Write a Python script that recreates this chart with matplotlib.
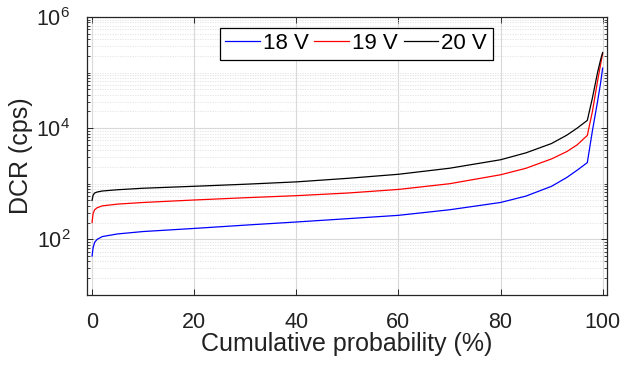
import matplotlib
matplotlib.use("Agg")
import matplotlib.pyplot as plt
from matplotlib.ticker import FixedLocator, NullFormatter

plt.rcParams['font.family'] = ['Liberation Sans', 'DejaVu Sans']
plt.rcParams['mathtext.fontset'] = 'custom'
plt.rcParams['mathtext.rm'] = 'Liberation Sans'
plt.rcParams['mathtext.it'] = 'Liberation Sans:italic'

prob = [0, 0.2, 0.5, 1, 2, 5, 10, 20, 30, 40, 50, 60, 70, 80, 85, 90, 93, 95, 97, 98, 99, 99.6, 100]
dcr_18v = [50, 70, 88, 100, 112, 125, 138, 157, 180, 205, 235, 270, 340, 460, 600, 900, 1300, 1750, 2400,
           9000, 30000, 65000, 120000]
dcr_19v = [200, 290, 340, 370, 400, 430, 460, 510, 560, 610, 680, 790, 1000, 1450, 1900, 2800, 3800, 5000, 7400,
           20000, 70000, 140000, 220000]
dcr_20v = [500, 620, 680, 710, 740, 780, 830, 900, 980, 1080, 1250, 1480, 1900, 2700, 3600, 5300, 7500, 10000, 13800,
           35000, 100000, 170000, 230000]
series_labels = ['18 V', '19 V', '20 V']
xticks = [0, 20, 40, 60, 80, 100]

fig = plt.figure(figsize=(6.21, 3.70), dpi=100)
ax = fig.add_axes([0.140, 0.203, 0.837, 0.751])

ax.plot(prob, dcr_18v, color='#0000ff', lw=0.9, label=series_labels[0])
ax.plot(prob, dcr_19v, color='#ff0000', lw=0.9, label=series_labels[1])
ax.plot(prob, dcr_20v, color='#000000', lw=0.9, label=series_labels[2])

ax.set_yscale('log')
ax.set_xlim(-1, 100.8)
ax.set_ylim(10, 1e6)
ax.set_xticks(xticks)
ax.yaxis.set_major_locator(FixedLocator([1e2, 1e4, 1e6]))
ax.yaxis.set_minor_locator(FixedLocator(
    [m * 10 ** e for e in range(1, 6) for m in range(1, 10) if not (m == 1 and e in (2, 4))] + [1e6]))
ax.yaxis.set_minor_formatter(NullFormatter())

ax.grid(True, which='major', axis='both', color='#d9d9d9', lw=0.8, ls='-')
ax.grid(True, which='minor', axis='y', color='#e2e2e2', lw=0.6, ls=(0, (1.5, 1.5)))
ax.set_axisbelow(True)

ax.tick_params(which='both', direction='in', top=True, right=True, labelsize=15.5, colors='#262626',
               labelcolor='#222222')
ax.tick_params(axis='x', pad=12)
ax.tick_params(axis='y', pad=12)
ax.tick_params(which='major', length=4, width=0.7)
ax.tick_params(which='minor', length=2.5, width=0.6)
for s in ax.spines.values():
    s.set_color('#262626')
    s.set_linewidth(0.9)

ax.set_xlabel('Cumulative probability (%)', fontsize=18, color='#222222')
ax.set_ylabel('DCR (cps)', fontsize=18, color='#222222')
ax.xaxis.set_label_coords(0.5, -0.135)
ax.yaxis.set_label_coords(-0.104, 0.5)

leg = ax.legend(loc='upper center', bbox_to_anchor=(0.518, 0.962), ncol=3, fontsize=16,
                handlelength=1.55, handletextpad=0.15, columnspacing=0.25, borderpad=0.25,
                borderaxespad=0, fancybox=False, framealpha=1, edgecolor='black')
leg.get_frame().set_linewidth(0.9)

fig.savefig('out.png', dpi=100)
